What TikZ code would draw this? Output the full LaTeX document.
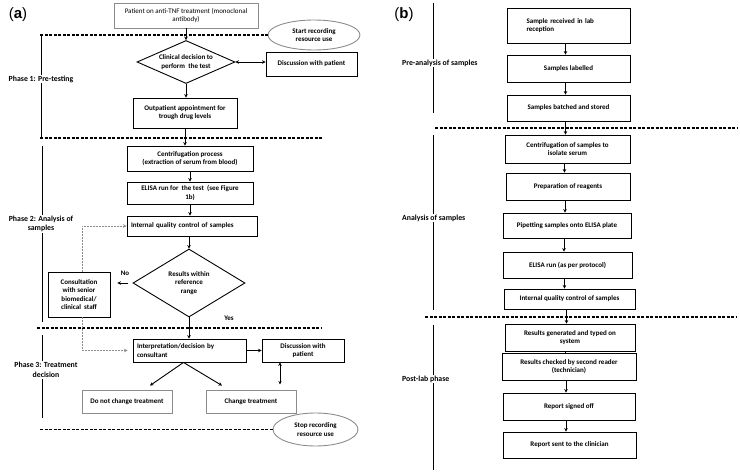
\documentclass[tikz,border=0pt]{standalone}
\usepackage{fontspec}
\setmainfont{Carlito}
\newfontfamily\panelfont{Liberation Sans}
\usetikzlibrary{shapes.geometric,arrows.meta}

\tikzset{
  box/.style={draw, line width=0.9pt, inner sep=1pt, align=center,
    font=\fontsize{7}{8.2}\selectfont\bfseries},
  greybox/.style={box, draw=black!45},
  decision/.style={diamond, draw, line width=0.9pt, inner sep=0pt},
  dtext/.style={align=center, inner sep=0pt, font=\fontsize{7}{8.4}\selectfont\bfseries},
  recoval/.style={ellipse, draw=black!45, line width=0.9pt, inner sep=0pt, align=center,
    font=\fontsize{7}{8.4}\selectfont\bfseries},
  divider/.style={line width=1.2pt, dash pattern=on 3pt off 1.5pt},
  phaseline/.style={line width=1pt},
  phase/.style={fill=white, inner sep=1pt, align=center,
    font=\fontsize{7.8}{9.6}\selectfont\bfseries},
  flow/.style={-{Stealth[length=3.5pt,width=3.5pt]}, line width=0.9pt},
  twoway/.style={{Stealth[length=3.5pt,width=3.5pt]}-{Stealth[length=3.5pt,width=3.5pt]}, line width=0.9pt},
  feedback/.style={-{Stealth[length=3.5pt,width=3.5pt]}, draw=black!45, line width=0.9pt, dash pattern=on 2pt off 1pt},
  small/.style={inner sep=1pt, font=\fontsize{7}{8.2}\selectfont\bfseries}
}

\begin{document}
\begin{tikzpicture}[x=1pt, y=-1pt]
  \useasboundingbox (0,0) rectangle (740,473);

  % Panel (a): care pathway
  \node[font=\panelfont\fontsize{15}{15}\selectfont] (tagA) at (18,15) {(\textbf{a})};

  \node[greybox, font=\fontsize{7}{8.2}\selectfont, minimum width=144, minimum height=25] (patient) at (186,15.5)
    {Patient on anti-TNF treatment (monoclonal\\antibody)};
  \node[recoval, minimum width=92, minimum height=30] (startrec) at (314,35) {Start recording\\resource use};

  \node[decision, minimum width=98, minimum height=43] (clindec) at (186,62) {};
  \node[dtext] (clindectxt) at (clindec) {Clinical decision to\\perform\ \ the test};
  \node[box, minimum width=91, minimum height=24] (discpatA) at (311.5,64) {Discussion with patient};
  \node[box, minimum width=104, minimum height=30] (outpat) at (185,113)
    {Outpatient appointment for\\trough drug levels};

  \node[box, minimum width=126, minimum height=25] (centrif) at (190,158.5)
    {Centrifugation process\\(extraction of serum from blood)};
  \node[box, minimum width=126, minimum height=22] (elisa) at (190,193)
    {ELISA run for\ \ the test\ \ (see Figure\\1b)};
  \node[box, minimum width=130, minimum height=20, text width=122, align=left] (iqc) at (192,226)
    {Internal quality control of samples};
  \node[decision, minimum width=112, minimum height=68] (results) at (189,283) {};
  \node[dtext] (resultstxt) at (results) {Results within\\reference\\range};
  \node[box, minimum width=62, minimum height=45] (consult) at (79,294.5)
    {Consultation\\with senior\\biomedical/\\clinical\ \ staff};
  \node[small] (nolab) at (125,273) {No};
  \node[small] (yeslab) at (229,318) {Yes};

  \node[box, minimum width=113, minimum height=23, text width=105, align=left] (interp) at (189.5,350.5)
    {Interpretation/decision by\\consultant};
  \node[box, minimum width=82, minimum height=23] (discpatB) at (303,350.5) {Discussion with\\patient};
  \node[greybox, minimum width=90, minimum height=23] (nochange) at (127,401.5) {Do not change treatment};
  \node[greybox, minimum width=90, minimum height=23] (change) at (251,401.5) {Change treatment};
  \node[recoval, minimum width=85, minimum height=33] (stoprec) at (315.5,429.5) {Stop recording\\resource use};

  % Draw phase dividers and side lines
  \draw[divider] (40,35) -- (startrec.west);
  \draw[divider] (40,138) -- (323,138);
  \draw[divider] (37,328) -- (322,328);
  \draw[divider] (40,429.5) -- (stoprec.west);
  \draw[phaseline] (41,35) -- (41,138);
  \draw[phaseline] (42,146) -- (42,322);
  \draw[phaseline] (42,335) -- (42,418);
  \node[phase] (phase1) at (41,79) {Phase 1: Pre-testing};
  \node[phase] (phase2) at (41,224) {Phase 2: Analysis of\\samples};
  \node[phase] (phase3) at (46,370) {Phase 3: Treatment\\decision};

  % Draw the connectors
  \draw[flow] (patient.south) -- (clindec.north);
  \draw[twoway] (clindec.east) -- (clindec.east -| discpatA.west);
  \draw[flow] (clindec.south) -- (clindec.south |- outpat.north);
  \draw[flow] (outpat.south) -- (outpat.south |- centrif.north);
  \draw[flow] (centrif.south) -- (elisa.north);
  \draw[flow] (elisa.south) -- (elisa.south |- iqc.north);
  \draw[flow] (results.north |- iqc.south) -- (results.north);
  \draw[flow, shorten <=5pt, shorten >=7pt] (results.west) -- (results.west -| consult.east);
  \draw[feedback] ([xshift=3pt]consult.north) |- (iqc.west);
  \draw[feedback, shorten >=5pt] ([xshift=3pt]consult.south) |- (interp.west);
  \draw[flow] (results.south) -- (results.south |- interp.north);
  \draw[flow] (interp.east) -- (discpatB.west);
  \draw[flow] ([xshift=-6pt]interp.south) -- ([shift={(23,-4)}]nochange.north);
  \draw[flow] ([xshift=-6pt]interp.south) -- ([shift={(-29,-4)}]change.north);
  \draw[twoway] ([xshift=-23pt]discpatB.south) -- +(0,22);

  % Panel (b): laboratory steps
  \node[font=\panelfont\fontsize{15}{15}\selectfont] (tagB) at (404,15) {(\textbf{b})};

  \node[box, minimum width=123, minimum height=35, text width=84, align=left] (recv) at (568.5,25.5)
    {Sample received in lab\\reception};
  \node[box, minimum width=123, minimum height=27] (labelled) at (568.5,68.5) {Samples labelled};
  \node[box, minimum width=123, minimum height=26] (batched) at (568.5,108) {Samples batched and stored};
  \node[box, minimum width=125, minimum height=28] (centrifB) at (567.5,149)
    {Centrifugation of samples to\\isolate serum};
  \node[box, minimum width=124, minimum height=27] (reagents) at (568,186.5) {Preparation of reagents};
  \node[box, minimum width=128, minimum height=25] (pipette) at (567,225.5) {Pipetting samples onto ELISA plate};
  \node[box, minimum width=129, minimum height=26] (elisaB) at (567.5,265) {ELISA run (as per protocol)};
  \node[box, minimum width=131, minimum height=20] (iqcB) at (569.5,299) {Internal quality control of samples};
  \node[box, minimum width=130, minimum height=27] (generated) at (570,337.5)
    {Results generated and typed on\\system};
  \node[box, minimum width=134, minimum height=27] (checked) at (569,366.5)
    {Results checked by second reader\\(technician)};
  \node[box, minimum width=132, minimum height=27] (signed) at (569,406.5) {Report signed off};
  \node[box, minimum width=133, minimum height=26] (sent) at (569.5,445) {Report sent to the clinician};

  % Draw phase dividers and side lines
  \draw[divider] (435,128) -- (737,128);
  \draw[divider] (425,317) -- (737,317);
  \draw[phaseline] (433,3) -- (433,113);
  \draw[phaseline] (433,135) -- (433,310);
  \draw[phaseline] (433,325) -- (433,470);
  \node[phase, anchor=west] (stageB1) at (401,63) {Pre-analysis of samples};
  \node[phase, anchor=west] (stageB2) at (401,218) {Analysis of samples};
  \node[phase, anchor=west] (stageB3) at (401,379) {Post-lab phase};

  % Draw the connectors
  \foreach \a/\b in {recv/labelled, labelled/batched, batched/centrifB, centrifB/reagents,
      reagents/pipette, pipette/elisaB, elisaB/iqcB, iqcB/generated, checked/signed, signed/sent}
    \draw[flow] ([xshift=-3pt]\a.south) -- ([xshift=-3pt]\a.south |- \b.north);
  \draw[line width=0.9pt] ([xshift=-5pt]generated.south) -- ([xshift=-5pt]generated.south |- checked.north);
\end{tikzpicture}
\end{document}
